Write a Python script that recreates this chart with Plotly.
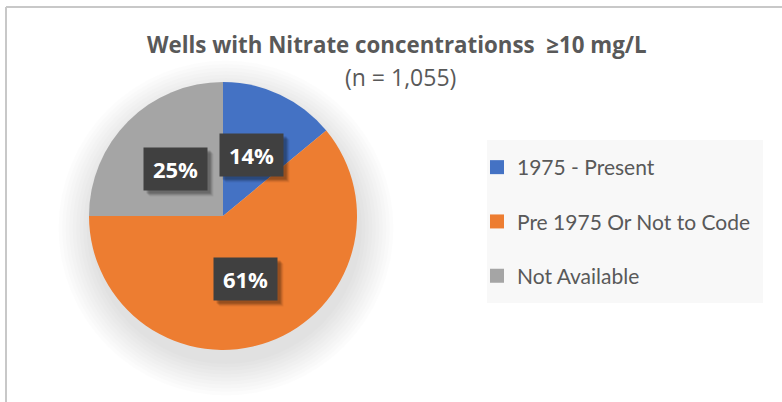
import math
import plotly.graph_objects as go

# ---- data ----
categories = ["1975 - Present", "Pre 1975 Or Not to Code", "Not Available"]
percent_values = [14, 61, 25]
colors = ["#4472C4", "#ED7D31", "#A5A5A5"]
title_text = "Wells with Nitrate concentrationss \u00a0\u226510 mg/L"
subtitle_text = "(n = 1,055)"

W, H = 782, 402
LEG_FONT = "Lato, 'Open Sans', sans-serif"
TITLE_FONT = "'Open Sans', Lato, sans-serif"
TEXT_GRAY = "#595959"

# pie geometry (pixels)
cx, cy, r = 223, 216, 134
dom_x = [(cx - r) / W, (cx + r) / W]
dom_y = [1 - (cy + r) / H, 1 - (cy - r) / H]

def px_x(v):
    return v / W

def px_y(v):
    return 1 - v / H

fig = go.Figure()
fig.add_trace(go.Pie(
    labels=categories, values=percent_values, sort=False,
    direction="clockwise", rotation=0,
    marker=dict(colors=colors, line=dict(width=0)),
    textinfo="none", hoverinfo="label+percent",
    showlegend=False, domain=dict(x=dom_x, y=dom_y),
))

# legend via placeholder traces (for row spacing)
for i, (cat, col) in enumerate(zip(categories, colors)):
    fig.add_trace(go.Scatter(
        x=[None], y=[None], mode="markers", name=cat,
        marker=dict(symbol="square", size=14, color=col, line=dict(width=0)),
        legendgroup=f"g{i}", showlegend=True, hoverinfo="skip",
    ))

annotations = []
total = sum(percent_values)
cum = 0
for v in percent_values:
    mid = (cum + v / 2) / total * 2 * math.pi
    cum += v
    lx = cx + 0.5 * r * math.sin(mid)
    ly = cy - 0.5 * r * math.cos(mid)
    label = f"{round(v / total * 100)}%"
    for k, a in ((6, 0.06), (5, 0.09), (4, 0.12), (3, 0.14)):
        annotations.append(dict(
            x=px_x(lx + k), y=px_y(ly + k), xref="paper", yref="paper",
            xanchor="center", yanchor="middle",
            text=" ", showarrow=False, width=59, height=38, borderpad=2,
            bgcolor=f"rgba(0,0,0,{a})", font=dict(size=20),
        ))
    annotations.append(dict(
        x=px_x(lx), y=px_y(ly), xref="paper", yref="paper",
        xanchor="center", yanchor="middle",
        text=f"<b>{label}</b>", showarrow=False, width=59, height=38,
        borderpad=2, bgcolor="#404040",
        font=dict(family=TITLE_FONT, size=22, color="white"),
    ))

annotations.append(dict(
    x=px_x(397), y=px_y(45), xref="paper", yref="paper", showarrow=False,
    text=f"<b>{title_text}</b>",
    font=dict(family=TITLE_FONT, size=22.3, color=TEXT_GRAY),
    xanchor="center", yanchor="middle",
))
annotations.append(dict(
    x=px_x(400), y=px_y(77), xref="paper", yref="paper", showarrow=False,
    text=subtitle_text, font=dict(family=TITLE_FONT, size=23, color=TEXT_GRAY),
    xanchor="center", yanchor="middle",
))

shapes = []
# soft pie shadow
for k in range(10):
    rr = r + 2 + k * 3.5
    sy = cy + 12
    shapes.append(dict(
        type="circle", xref="paper", yref="paper", layer="below",
        x0=px_x(cx + 3 - rr), x1=px_x(cx + 3 + rr),
        y0=px_y(sy + rr), y1=px_y(sy - rr),
        fillcolor="rgba(0,0,0,0.013)", line=dict(width=0),
    ))
# legend background box
shapes.append(dict(
    type="rect", xref="paper", yref="paper", layer="below",
    x0=px_x(487), x1=px_x(763), y0=px_y(303), y1=px_y(140),
    fillcolor="#F8F8F8", line=dict(width=0),
))
# chart border (top-left part visible)
shapes += [
    dict(type="line", xref="paper", yref="paper", x0=px_x(6), x1=px_x(6),
         y0=0, y1=px_y(7), line=dict(color="#C8C8C8", width=2)),
    dict(type="line", xref="paper", yref="paper", x0=px_x(6), x1=1,
         y0=px_y(7), y1=px_y(7), line=dict(color="#C8C8C8", width=2)),
]

fig.update_layout(
    width=W, height=H, margin=dict(l=0, r=0, t=0, b=0),
    paper_bgcolor="white", plot_bgcolor="rgba(0,0,0,0)",
    xaxis=dict(visible=False), yaxis=dict(visible=False),
    annotations=annotations, shapes=shapes,
    legend=dict(
        x=px_x(477), y=px_y(147), xanchor="left", yanchor="top",
        bgcolor="rgba(0,0,0,0)", font=dict(family=LEG_FONT, size=21, color=TEXT_GRAY),
        tracegroupgap=24, itemsizing="trace",
    ),
    font=dict(family=LEG_FONT),
)

fig.write_html("out.html", config={"displayModeBar": False},
               post_script="document.body.style.margin='0';")
